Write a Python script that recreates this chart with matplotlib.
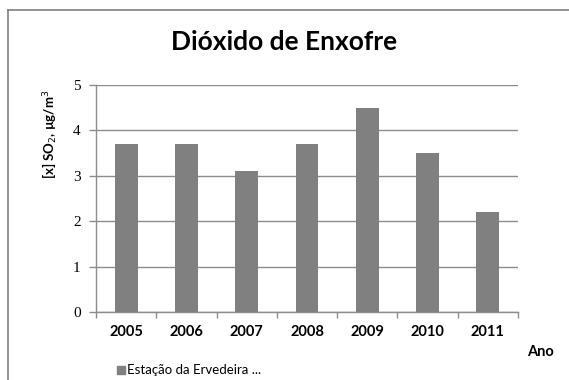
import matplotlib.pyplot as plt
from matplotlib.lines import Line2D

# concentração média anual de SO2
anos = ['2005', '2006', '2007', '2008', '2009', '2010', '2011']
so2 = [3.7, 3.7, 3.1, 3.7, 4.5, 3.5, 2.2]
serie = 'Estação da Ervedeira ...'

cinza = '#808080'
linha = '#8c8c8c'

fig = plt.figure(figsize=(5.69, 3.80), dpi=100)
ax = fig.add_axes([0.1687, 0.1789, 0.7417, 0.5974])

x = range(len(anos))
ax.bar(x, so2, width=0.38, color=cinza, zorder=3)

ax.set_xlim(-0.5, len(anos) - 0.5)
ax.set_ylim(0, 5)
ax.set_yticks(range(6))
ax.yaxis.grid(True, color=linha, linewidth=1.0, zorder=0)

ax.set_xticks(list(x))
ax.set_xticklabels(anos, fontfamily='Lato', fontweight='bold', fontsize=10.5)
ax.set_xticks([i - 0.5 for i in range(len(anos) + 1)], minor=True)
ax.tick_params(axis='x', which='major', length=0, pad=9)
ax.tick_params(axis='x', which='minor', length=4, color=linha, width=1.0)
ax.tick_params(axis='y', length=5, color=linha, width=1.0, pad=6)
for t in ax.get_yticklabels():
    t.set_fontfamily('Liberation Serif')
    t.set_fontsize(11)

for s in ['top', 'right']:
    ax.spines[s].set_visible(False)
for s in ['left', 'bottom']:
    ax.spines[s].set_color(linha)
    ax.spines[s].set_linewidth(1.0)

fig.text(0.5, 1 - 42 / 380, 'Dióxido de Enxofre', ha='center', va='center',
         fontfamily='Lato', fontweight='bold', fontsize=19)
fig.text(50 / 569, 1 - 134 / 380, '[x] SO$_2$, µg/m$^3$', rotation=90,
         ha='center', va='center', fontfamily='Lato', fontweight='bold', fontsize=9.5)
fig.text(540 / 569, 1 - 352 / 380, 'Ano', ha='center', va='center',
         fontfamily='Lato', fontweight='bold', fontsize=10.5)

# legenda
fig.patches.append(plt.Rectangle((117 / 569, 1 - 374 / 380), 8 / 569, 8 / 380,
                                 transform=fig.transFigure, color=cinza))
fig.text(127 / 569, 1 - 370 / 380, serie, ha='left', va='center',
         fontfamily='Lato', fontsize=9.5)

# moldura
fig.add_artist(Line2D([8 / 569, 8 / 569], [0, 1 - 10 / 380],
                      transform=fig.transFigure, color=cinza, linewidth=1.2))
fig.add_artist(Line2D([8 / 569, 1], [1 - 10 / 380, 1 - 10 / 380],
                      transform=fig.transFigure, color=cinza, linewidth=1.2))

fig.savefig('out.png', dpi=100)
